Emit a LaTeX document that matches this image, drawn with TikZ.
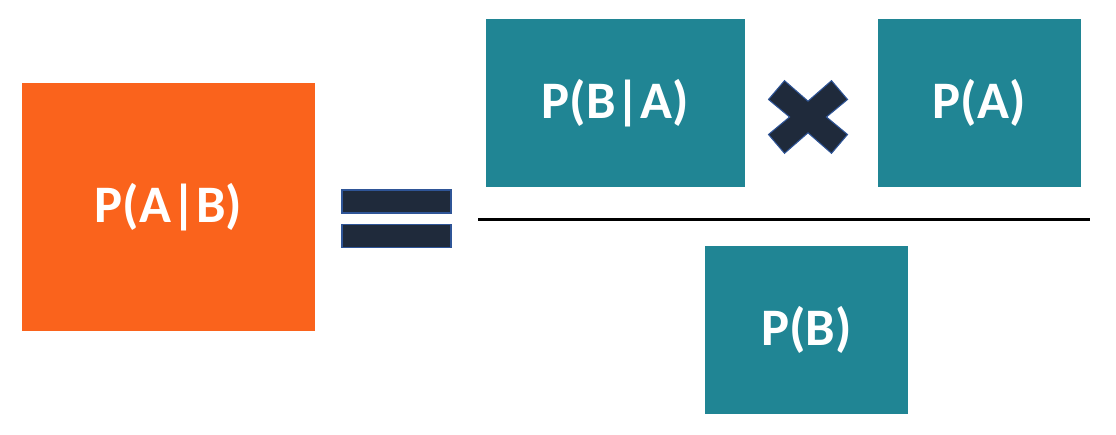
\documentclass[tikz,border=0pt]{standalone}
\usepackage{fontspec}
\setmainfont{Carlito}
\usepackage{tikz}
\usetikzlibrary{positioning}
\definecolor{bayesorange}{HTML}{FA631C}
\definecolor{bayesteal}{HTML}{208594}
\definecolor{signdark}{HTML}{1F2A3B}
\definecolor{signedge}{HTML}{2F5597}

\begin{document}
\begin{tikzpicture}[
        box/.style={fill=#1, text=white, font=\fontsize{30}{36}\selectfont\bfseries, inner sep=0pt},
        bar/.style={fill=signdark, draw=signedge, line width=0.6pt, minimum width=2.18cm, minimum height=0.46cm, inner sep=0pt}
    ]
        \useasboundingbox (0,0) rectangle (22.32,8.7);
        \node (post) [box=bayesorange, minimum width=5.86cm, minimum height=4.96cm] at (3.37,4.56) {P(A|B)};
        \node (eqtop) [bar] at (7.93,4.67) {};
        \node (eqbot) [bar, below=0.2cm of eqtop] {};
        \node (like) [box=bayesteal, minimum width=5.18cm, minimum height=3.36cm] at (12.31,6.64) {P(B|A)};
        \node (prior) [box=bayesteal, minimum width=4.06cm, minimum height=3.36cm, right=2.64cm of like] {P(A)};
        \node (evid) [box=bayesteal, minimum width=4.06cm, minimum height=3.36cm] at (16.13,2.1) {P(B)};
        \coordinate (barl) at (9.56,4.31);
        \coordinate (barr) at (21.8,4.31);
        \draw[line width=1.7pt] (barl) -- (barr);
        \draw[fill=signdark, draw=signedge, line width=0.6pt, shift={(16.16,6.36)}]
            (-0.47,0.726) -- (0,0.316) -- (0.47,0.726) -- (0.79,0.35) -- (0.368,0)
            -- (0.79,-0.35) -- (0.47,-0.726) -- (0,-0.316) -- (-0.47,-0.726)
            -- (-0.79,-0.35) -- (-0.368,0) -- (-0.79,0.35) -- cycle;
    \end{tikzpicture}
\end{document}
